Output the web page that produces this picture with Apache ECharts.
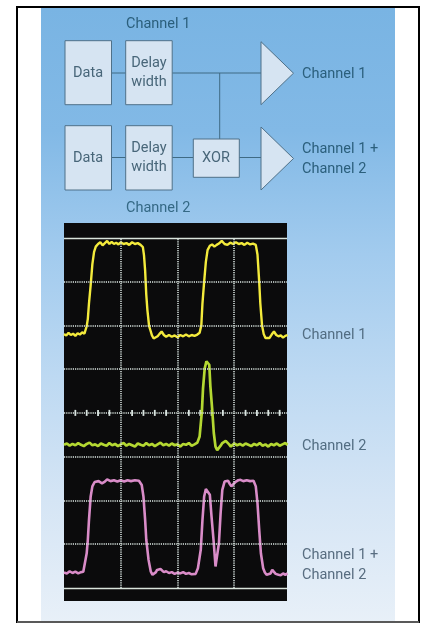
<!DOCTYPE html>
<html><head><meta charset="utf-8">
<style>html,body{margin:0;padding:0;background:#fff}#c{width:422px;height:623px}</style>
<script src="https://cdn.jsdelivr.net/npm/echarts@6/dist/echarts.min.js"></script>
</head><body><div id="c"></div>
<script>
// time (ns, 100 per division), level (mV, 100 per division)
const gridTimes = [100, 200, 300];
const gridLevels = [100, 200, 300, 400, 500, 600, 700];
const frameLevels = [0, 800];
const centreLevel = 400;
const minorTicks = [20,40,60,80,120,140,160,180,220,240,260,280,320,340,360,380];
const channel1 = [[0,580],[4,577],[8,583],[12,578],[16,581],[20,576],[24,582],[28,579],[32,584],[36,581],[38,585],[40,598],[42,615],[44,650],[47,692],[50,740],[53,768],[56,780],[60,786],[64,790],[68,783],[72,788],[76,793],[80,786],[84,791],[88,786],[92,789],[96,785],[100,790],[105,786],[110,788],[115,784],[120,790],[125,786],[130,788],[135,784],[139,779],[141,760],[143,725],[145,670],[147,635],[150,598],[152,590],[155,577],[158,570],[161,569],[165,575],[168,580],[172,586],[176,578],[180,574],[185,578],[190,574],[195,577],[200,573],[205,578],[210,575],[215,579],[220,575],[225,578],[230,576],[235,579],[239,583],[242,600],[244,650],[247,700],[250,745],[253,772],[257,782],[261,785],[265,780],[269,784],[273,787],[278,793],[283,786],[288,784],[293,789],[298,786],[303,790],[308,786],[313,788],[318,784],[323,789],[328,785],[333,787],[338,784],[341,762],[344,700],[346,650],[349,600],[352,580],[355,571],[358,569],[362,571],[366,579],[370,586],[374,578],[378,575],[382,577],[386,572],[390,576],[394,578]];
const channel2 = [[0,327],[5,330],[10,325],[15,329],[20,326],[25,331],[30,327],[35,324],[40,329],[45,332],[50,326],[55,328],[60,324],[65,330],[70,327],[75,325],[80,331],[85,326],[90,329],[95,324],[100,328],[105,331],[110,325],[115,329],[120,326],[125,323],[130,330],[135,327],[140,325],[145,331],[150,326],[155,329],[160,324],[165,328],[170,332],[175,326],[180,329],[185,325],[190,330],[195,326],[200,328],[205,323],[210,329],[215,327],[220,331],[225,325],[230,328],[235,332],[239,346],[243,403],[245,456],[248,502],[251,518],[253,521],[256,510],[258,460],[261,411],[264,354],[267,323],[270,315],[273,318],[276,325],[279,331],[282,335],[285,336],[288,333],[291,328],[294,323],[297,326],[300,330],[305,326],[310,329],[315,325],[320,330],[325,327],[330,324],[335,329],[340,326],[345,331],[350,325],[355,328],[360,323],[365,329],[370,326],[375,330],[380,325],[385,328],[390,331],[394,327]];
const channel3 = [[0,35],[5,33],[10,38],[15,34],[20,37],[25,33],[30,36],[34,37],[37,41],[40,79],[42,110],[44,155],[47,209],[50,232],[54,242],[61,244],[67,239],[72,243],[76,248],[82,244],[88,246],[94,243],[100,246],[106,243],[112,246],[118,244],[125,246],[132,245],[137,235],[140,209],[143,155],[145,110],[149,64],[153,37],[156,30],[159,27],[162,36],[164,41],[167,38],[170,43],[173,39],[176,36],[180,38],[185,34],[190,36],[195,32],[200,35],[205,33],[210,36],[215,32],[220,34],[225,31],[232,32],[236,45],[241,87],[244,155],[247,209],[250,226],[253,230],[257,213],[260,163],[264,102],[267,49],[270,53],[273,102],[276,171],[279,224],[283,243],[286,246],[289,245],[292,238],[295,232],[299,238],[303,243],[307,246],[311,247],[316,244],[322,246],[328,244],[334,245],[338,232],[341,193],[344,133],[347,79],[351,45],[354,35],[357,30],[360,28],[364,33],[367,41],[370,37],[373,32],[378,30],[382,29],[386,33],[390,30],[394,33]];

const LINE = '#3f6a84', BOX = '#d6e4f2', EDGE = '#4f7189', TXT = '#486679';
const rect = (x, y, w, h) => ({type:'rect', z:-5, shape:{x, y, width:w, height:h}, style:{fill:BOX, stroke:EDGE, lineWidth:1}});
const seg = (x1, y1, x2, y2) => ({type:'line', z:-6, shape:{x1, y1, x2, y2}, style:{stroke:LINE, lineWidth:1}});
const tri = (x, y1, y2) => ({type:'polygon', z:-5, shape:{points:[[x,y1],[x,y2],[x+32.5,(y1+y2)/2]]}, style:{fill:BOX, stroke:EDGE, lineWidth:1}});
const txt = (s, x, y, fill, align) => ({type:'text', z:-4, x, y, style:{text:s, fill:fill, font:'14.5px Roboto, sans-serif', align:align||'left', verticalAlign:'middle'}});

const chart = echarts.init(document.getElementById('c'), null, {renderer:'canvas'});
chart.setOption({
  animation:false,
  backgroundColor:'#ffffff',
  graphic:{elements:[
    {type:'rect', z:-10, shape:{x:41,y:8,width:354,height:615},
      style:{fill:new echarts.graphic.LinearGradient(0,0,0,1,[
        {offset:0,color:'#79b4e3'},{offset:0.2,color:'#82b9e6'},{offset:0.4,color:'#a2cbee'},
        {offset:0.6,color:'#bdd9f2'},{offset:0.8,color:'#d5e5f5'},{offset:1,color:'#e8f0f8'}])}},
    {type:'rect', z:-9, shape:{x:17,y:7,width:402,height:615}, style:{fill:'none',stroke:'#000000',lineWidth:2}},
    {type:'line', z:-9, shape:{x1:17,y1:622,x2:419,y2:622}, style:{stroke:'#777777',lineWidth:1.5}},
    seg(111,73,261,73), seg(219.7,73,219.7,139),
    seg(111,157.5,193,157.5), seg(239,157.5,261,157.5),
    rect(65,40.7,46.5,64), rect(125.7,40.7,46.5,64),
    rect(65,125.7,46.5,64.3), rect(125.7,125.7,46.5,64.3),
    rect(193.3,139,46,38.3),
    tri(261,41.7,104.7), tri(261,127,190),
    txt('Data',88,73,TXT,'center'), txt('Delay',149,63,TXT,'center'), txt('width',149,82.5,TXT,'center'),
    txt('Data',88,158,TXT,'center'), txt('Delay',149,148,TXT,'center'), txt('width',149,167.5,TXT,'center'),
    txt('XOR',216,158,TXT,'center'),
    txt('Channel 1',126,24,'#2b5f7c'), txt('Channel 2',126,208,'#356985'),
    txt('Channel 1',302,74,'#2b5f7c'), txt('Channel 1 +',302,149,'#2b5f7c'), txt('Channel 2',302,169,'#2b5f7c'),
    txt('Channel 1',302,335,'#526d82'), txt('Channel 2',302,446,'#526d82'),
    txt('Channel 1 +',302,555,'#586d80'), txt('Channel 2',302,575,'#586d80')
  ]},
  grid:{left:64,right:135,top:223,bottom:22,show:true,backgroundColor:'#0b0b0c',borderWidth:0},
  xAxis:{type:'value',min:0,max:393,show:false},
  yAxis:{type:'value',min:-30,max:834,show:false},
  series:[
    {type:'line',silent:true,data:[],markLine:{silent:true,symbol:'none',label:{show:false},animation:false,
      lineStyle:{color:'#dbe6e2',width:1.5,type:[1.2,1]},
      data:[
        ...gridLevels.map(v=>[{coord:[0,v]},{coord:[393,v]}]),
        ...gridTimes.map(t=>[{coord:[t,0]},{coord:[t,800]}])
      ]}},
    {type:'line',silent:true,data:[],markLine:{silent:true,symbol:'none',label:{show:false},animation:false,
      lineStyle:{color:'#d9e4dc',width:1.3,type:'solid'},
      data:frameLevels.map(v=>[{coord:[0,v]},{coord:[393,v]}])}},
    {type:'scatter',silent:true,symbol:'rect',symbolSize:[1.8,6],itemStyle:{color:'#dbe6e2',opacity:1},
      data:minorTicks.map(t=>[t,centreLevel])},
    {type:'line',silent:true,showSymbol:false,data:channel1,lineStyle:{color:'#f3ea3c',width:2.4}},
    {type:'line',silent:true,showSymbol:false,data:channel2,lineStyle:{color:'#b4d832',width:2.7}},
    {type:'line',silent:true,showSymbol:false,data:channel3,lineStyle:{color:'#d98cc8',width:2.6}}
  ]
});
</script></body></html>
